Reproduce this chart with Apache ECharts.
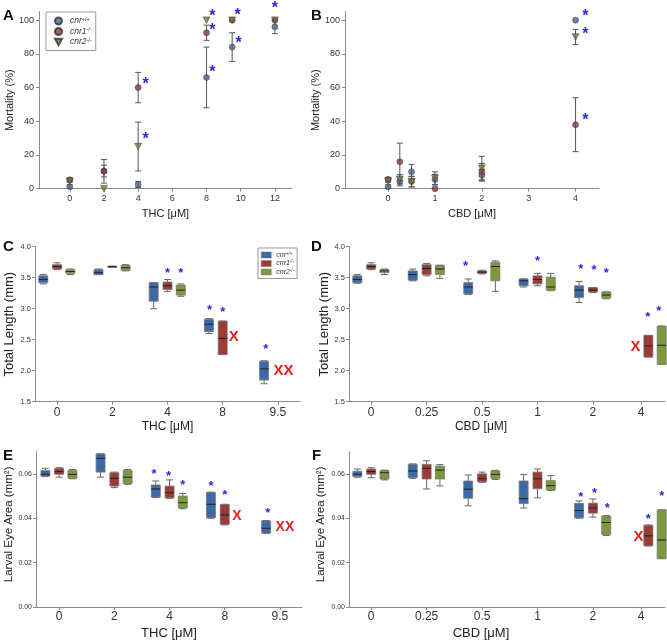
<!DOCTYPE html>
<html><head><meta charset="utf-8">
<script src="https://cdn.jsdelivr.net/npm/echarts@6/dist/echarts.min.js"></script>
<style>html,body{margin:0;padding:0;background:#fff}#c{width:667px;height:641px}</style>
</head><body><div id="c"></div><script>
// ---------- data ----------
const thcLabels = ['0','2','4','8','9.5'];
const cbdLabels = ['0','0.25','0.5','1','2','4'];
const thcTickPos = [0,1,2,3,4];
const cbdTickPos = [0,1,2,3,4,4.87];
const mortTHCticks = [0,2,4,6,8,10,12];
const mortCBDticks = [0,1,2,3,4];
const mortYticks = [0,20,40,60,80,100];
const lenYticks = [1.5,2.0,2.5,3.0,3.5,4.0];
const eyeYticks = [0,0.02,0.04,0.06];

// Panel A: mortality vs THC (mean, SEM)
const mortTHCdose = [0,2,4,8,9.5,12];
const mortTHC_wt = [1.2,10.5,2.5,66,84,96];
const mortTHC_wt_err = [1,3.5,1.8,18,8.5,4];
const mortTHC_ko1 = [5.3,10.3,60,92.5,100,100];
const mortTHC_ko1_err = [0.8,7,9,4.5,0,0];
const mortTHC_ko2 = [4.6,0,25,100,100,100];
const mortTHC_ko2_err = [0.8,0,14.5,0,0,0];

// Panel B: mortality vs CBD
const mortCBDdose = [0,0.25,0.5,1,2,4];
const mortCBD_wt = [1.2,4.2,10.1,5.5,8,100];
const mortCBD_wt_err = [1,2.5,4.3,3,3.5,0];
const mortCBD_ko1 = [5.6,16,4.2,0,10,38];
const mortCBD_ko1_err = [1,11,3,0,5,16];
const mortCBD_ko2 = [4.6,5.6,4.2,6.1,12.2,90];
const mortCBD_ko2_err = [0.8,2.8,3.2,3.9,7,4.5];

// Panel C: total length vs THC  [min,q1,median,q3,max]
const lenTHC_wt = [[3.40,3.42,3.47,3.53,3.55],[3.55,3.55,3.58,3.63,3.64],[3.00,3.12,3.35,3.42,3.42],[2.60,2.63,2.75,2.83,2.84],[1.79,1.85,2.03,2.15,2.16]];
const lenTHC_ko1 = [[3.63,3.64,3.68,3.71,3.74],[3.675,3.677,3.68,3.683,3.685],[3.28,3.31,3.37,3.43,3.47],[2.26,2.26,2.52,2.80,2.80],null];
const lenTHC_ko2 = [[3.55,3.57,3.60,3.63,3.64],[3.61,3.62,3.66,3.70,3.71],[3.20,3.22,3.30,3.38,3.40],null,null];

// Panel D: total length vs CBD
const lenCBD_wt = [[3.41,3.42,3.47,3.53,3.55],[3.45,3.46,3.55,3.61,3.64],[3.23,3.24,3.35,3.42,3.48],[3.35,3.37,3.45,3.48,3.48],[3.10,3.18,3.30,3.37,3.44],null];
const lenCBD_ko1 = [[3.63,3.64,3.68,3.71,3.74],[3.53,3.55,3.65,3.71,3.73],[3.56,3.57,3.59,3.61,3.62],[3.37,3.40,3.47,3.53,3.57],[3.26,3.27,3.30,3.34,3.34],[2.22,2.22,2.40,2.57,2.57]];
const lenCBD_ko2 = [[3.55,3.58,3.61,3.63,3.64],[3.49,3.55,3.64,3.70,3.70],[3.28,3.45,3.68,3.75,3.77],[3.29,3.30,3.35,3.51,3.57],[3.16,3.17,3.22,3.27,3.27],[2.10,2.10,2.41,2.72,2.72]];

// Panel E: eye area vs THC
const eyeTHC_wt = [[0.0588,0.0590,0.0598,0.0615,0.0625],[0.0585,0.0608,0.0670,0.0690,0.0690],[0.0493,0.0495,0.0532,0.0550,0.0568],[0.0400,0.0402,0.0463,0.0516,0.0518],[0.0332,0.0333,0.0355,0.0388,0.0390]];
const eyeTHC_ko1 = [[0.0585,0.0598,0.0610,0.0625,0.0628],[0.0538,0.0545,0.0580,0.0605,0.0608],[0.0490,0.0492,0.0515,0.0545,0.0573],[0.0370,0.0372,0.0415,0.0462,0.0463],null];
const eyeTHC_ko2 = [[0.0578,0.0580,0.0598,0.0615,0.0620],[0.0553,0.0556,0.0585,0.0615,0.0620],[0.0443,0.0446,0.0470,0.0500,0.0512],null,null];

// Panel F: eye area vs CBD
const eyeCBD_wt = [[0.0585,0.0588,0.0598,0.0612,0.0622],[0.0580,0.0583,0.0613,0.0643,0.0645],[0.0456,0.0490,0.0531,0.0568,0.0595],[0.0446,0.0466,0.0488,0.0568,0.0597],[0.0400,0.0402,0.0435,0.0467,0.0478],null];
const eyeCBD_ko1 = [[0.0583,0.0598,0.0610,0.0622,0.0628],[0.0532,0.0577,0.0625,0.0643,0.0659],[0.0562,0.0564,0.0578,0.0600,0.0608],[0.0492,0.0533,0.0578,0.0608,0.0622],[0.0405,0.0423,0.0446,0.0468,0.0487],[0.0275,0.0276,0.0321,0.0368,0.0370]];
const eyeCBD_ko2 = [[0.0573,0.0577,0.0605,0.0615,0.0617],[0.0546,0.0577,0.0617,0.0635,0.0642],[0.0575,0.0580,0.0598,0.0613,0.0616],[0.0525,0.0527,0.0547,0.0570,0.0592],[0.0322,0.0327,0.0381,0.0410,0.0412],[0.0218,0.0218,0.0302,0.0438,0.0438]];

// significance marks (asterisks) and excluded marks (X)
const starsA = [[4.44,64],[4.44,31],[8.34,104],[8.34,95.7],[8.34,71],[9.82,105],[9.88,88],[12,109]];
const starsB = [[4.21,104.3],[4.21,93.5],[4.21,42.7]];
const starsC = [[2,3.61],[2.24,3.61],[2.76,3.02],[3,2.99],[3.78,2.39]];
const xMarksC = [[3.2,2.54,1],[4.1,2.0,2]];
const starsD = [[1.7,3.72],[3,3.81],[3.78,3.68],[4.02,3.66],[4.24,3.61],[4.99,2.91],[5.19,3.01]];
const xMarksD = [[4.77,2.39,1]];
const starsE = [[1.72,0.0611],[1.98,0.0600],[2.24,0.0561],[2.75,0.0558],[3.0,0.0516],[3.78,0.0435]];
const xMarksE = [[3.22,0.0411,1],[4.09,0.0358,2]];
const starsF = [[3.78,0.0505],[4.03,0.0526],[4.26,0.0457],[5.0,0.0408],[5.24,0.0510]];
const xMarksF = [[4.82,0.0317,1]];

// ---------- style ----------
const FF = '"Liberation Sans", Arial, sans-serif';
const groupOffset = [-0.25, 0, 0.24];
const boxColors = ['#3d69a6','#9c3a35','#7c9a3c'];
const dotColors = ['#4a6590','#8a3b3c','#77763f'];
const AX = '#8c8c8c';
const TRI_DOWN = 'path://M0,0L10,0L5,9Z';

const chart = echarts.init(document.getElementById('c'), null, {renderer:'canvas'});

function nearestLabel(v, ticks, labels){
  let bi=0, bd=1e9;
  ticks.forEach((t,i)=>{const d=Math.abs(t-v); if(d<bd){bd=d;bi=i;}});
  return labels[bi];
}
function xAx(gi,min,max,ticks,labels,name,o){
  return {type:'value',gridIndex:gi,min,max,name,nameLocation:'middle',nameGap:o.nameGap,
    nameTextStyle:{fontSize:o.nameSize,color:'#222',fontFamily:FF,padding:o.namePad||0},
    axisLine:{show:true,onZero:false,lineStyle:{color:AX,width:1}},
    axisTick:{show:true,customValues:ticks,length:3,lineStyle:{color:AX}},
    axisLabel:{customValues:ticks,formatter:v=>nearestLabel(v,ticks,labels),fontSize:o.fontSize,color:'#333',fontFamily:FF,margin:o.margin},
    splitLine:{show:false}};
}
function yAx(gi,min,max,ticks,fmt,name,o){
  return {type:'value',gridIndex:gi,min,max,name,nameLocation:'middle',nameGap:o.nameGap,
    nameTextStyle:{fontSize:o.nameSize,color:'#222',fontFamily:FF,padding:o.namePad||0},
    axisLine:{show:true,onZero:false,lineStyle:{color:AX,width:1}},
    axisTick:{show:true,customValues:ticks,length:3,lineStyle:{color:AX}},
    axisLabel:{customValues:ticks,formatter:fmt,fontSize:o.fontSize,color:'#333',fontFamily:FF,margin:o.margin},
    splitLine:{show:false}};
}

function errSeries(gi,xs,ms,es){
  return {type:'custom',xAxisIndex:gi,yAxisIndex:gi,z:2,silent:true,
    data:xs.map((x,i)=>[x,ms[i],es[i]]),
    renderItem:(p,api)=>{
      const x=api.value(0),m=api.value(1),e=api.value(2);
      if(!(e>0)) return null;
      const t=api.coord([x,m+e]), b=api.coord([x,m-e]); const w=3;
      const st={stroke:'#555',lineWidth:1};
      return {type:'group',children:[
        {type:'line',shape:{x1:t[0],y1:t[1],x2:b[0],y2:b[1]},style:st},
        {type:'line',shape:{x1:t[0]-w,y1:t[1],x2:t[0]+w,y2:t[1]},style:st},
        {type:'line',shape:{x1:b[0]-w,y1:b[1],x2:b[0]+w,y2:b[1]},style:st}]};
    }};
}
function dotSeries(gi,name,xs,ms,k){
  return {type:'scatter',name,xAxisIndex:gi,yAxisIndex:gi,z:3+k,
    symbol:k===2?TRI_DOWN:'circle',symbolSize:k===2?[7,6.5]:6,
    itemStyle:{color:dotColors[k],borderColor:'#333',borderWidth:0.6},
    data:xs.map((x,i)=>[x,ms[i]])};
}
function boxSeries(gi,name,boxes,k){
  const data=[];
  boxes.forEach((b,i)=>{ if(b) data.push([i+groupOffset[k]].concat(b)); });
  return {type:'custom',name,xAxisIndex:gi,yAxisIndex:gi,z:3,
    itemStyle:{color:boxColors[k]},
    data,
    renderItem:(p,api)=>{
      const x=api.value(0);
      const c=[1,2,3,4,5].map(j=>api.coord([x,api.value(j)]));
      const cx=c[0][0], hw=4.5, cw=3.5;
      const ws={stroke:'#666',lineWidth:1};
      return {type:'group',children:[
        {type:'line',shape:{x1:cx,y1:c[4][1],x2:cx,y2:c[3][1]},style:ws},
        {type:'line',shape:{x1:cx,y1:c[1][1],x2:cx,y2:c[0][1]},style:ws},
        {type:'line',shape:{x1:cx-cw,y1:c[4][1],x2:cx+cw,y2:c[4][1]},style:ws},
        {type:'line',shape:{x1:cx-cw,y1:c[0][1],x2:cx+cw,y2:c[0][1]},style:ws},
        {type:'rect',shape:{x:cx-hw,y:c[3][1],width:2*hw,height:Math.max(1,c[1][1]-c[3][1])},style:{fill:boxColors[k],stroke:'#777',lineWidth:0.8}},
        {type:'line',shape:{x1:cx-hw,y1:c[2][1],x2:cx+hw,y2:c[2][1]},style:{stroke:'#222',lineWidth:1}}]};
    }};
}
function starSeries(gi,pts,size){
  return {type:'custom',xAxisIndex:gi,yAxisIndex:gi,z:10,silent:true,clip:false,
    data:pts,
    renderItem:(p,api)=>{
      const c=api.coord([api.value(0),api.value(1)]);
      return {type:'text',x:c[0],y:c[1]+size*0.22,style:{text:'*',fill:'#2a2ad6',font:'bold '+size+'px '+FF,align:'center',verticalAlign:'middle'}};
    }};
}
function xSeries(gi,pts,size){
  return {type:'custom',xAxisIndex:gi,yAxisIndex:gi,z:10,silent:true,clip:false,
    data:pts,
    renderItem:(p,api)=>{
      const c=api.coord([api.value(0),api.value(1)]);
      return {type:'text',x:c[0],y:c[1],style:{text:'X'.repeat(api.value(2)),fill:'#e3211d',font:'bold '+size+'px '+FF,align:'center',verticalAlign:'middle'}};
    }};
}

const legendRich = {
  f:{fontStyle:'italic',fontSize:8.5,color:'#333',fontFamily:FF,lineHeight:10,padding:[0,0,0,3]},
  s:{fontSize:5.5,color:'#333',fontFamily:FF,verticalAlign:'top',lineHeight:10}
};
const legendRichC = {
  f:{fontStyle:'italic',fontSize:7,color:'#333',fontFamily:FF,lineHeight:8},
  s:{fontSize:4.5,color:'#333',fontFamily:FF,verticalAlign:'top',lineHeight:8}
};
const legendText = {
  wtA:'{f|cnr}{s|+/+}', ko1A:'{f|cnr1}{s|-/-}', ko2A:'{f|cnr2}{s|-/-}',
  wtBox:'{f|cnr}{s|+/+}', ko1Box:'{f|cnr1}{s|-/-}', ko2Box:'{f|cnr2}{s|-/-}'
};

const boxNames=['wtBox','ko1Box','ko2Box'];
const lenFmt=v=>v.toFixed(1);
const eyeFmt=v=>v.toFixed(2);
const titleStyle={fontSize:15,fontWeight:'bold',color:'#111',fontFamily:FF};

const option = {
  animation:false,
  backgroundColor:'#fff',
  title:[
    {text:'A',left:3,top:8},{text:'B',left:311,top:8},
    {text:'C',left:3,top:239},{text:'D',left:311,top:239},
    {text:'E',left:3,top:448},{text:'F',left:312,top:448}
  ].map(t=>Object.assign(t,{padding:0,textStyle:titleStyle})),
  legend:[
    {data:[{name:'wtA',icon:'circle'},{name:'ko1A',icon:'circle'},{name:'ko2A',icon:TRI_DOWN}],
     orient:'vertical',left:46,top:12,itemWidth:7,itemHeight:7,itemGap:1,
     padding:[4,4,4,8],borderColor:'#999',borderWidth:1,backgroundColor:'#fff',selectedMode:false,
     formatter:n=>legendText[n],textStyle:{rich:legendRich}},
    {data:boxNames.map((n,k)=>({name:n,icon:'rect',itemStyle:{color:boxColors[k],borderColor:'#777',borderWidth:0.5}})),
     orient:'vertical',left:258,top:248,itemWidth:10,itemHeight:6,itemGap:1,
     padding:[3,3,3,3],borderColor:'#999',borderWidth:1,backgroundColor:'#fff',selectedMode:false,
     formatter:n=>legendText[n],textStyle:{rich:legendRichC}}
  ],
  grid:[
    {left:39,top:11.7,width:253,height:177},
    {left:345,top:11.7,width:254,height:177},
    {left:35,top:246.7,width:265,height:155},
    {left:349,top:246.7,width:316,height:155},
    {left:36,top:451.7,width:266,height:155.3},
    {left:349,top:451.7,width:316,height:155.3}
  ],
  xAxis:[
    xAx(0,-1.8,13,mortTHCticks,mortTHCticks.map(String),'THC [\u03bcM]',{nameGap:20,nameSize:11,fontSize:9,margin:5}),
    xAx(1,-0.92,4.5,mortCBDticks,mortCBDticks.map(String),'CBD [\u03bcM]',{nameGap:20,nameSize:11,fontSize:9,margin:5}),
    xAx(2,-0.4,4.4,thcTickPos,thcLabels,'THC [\u03bcM]',{nameGap:19,nameSize:12,fontSize:12,margin:5}),
    xAx(3,-0.4,5.3,cbdTickPos,cbdLabels,'CBD [\u03bcM]',{nameGap:19,nameSize:12,fontSize:12,margin:5,namePad:[0,52,0,0]}),
    xAx(4,-0.42,4.4,thcTickPos,thcLabels,'THC [\u03bcM]',{nameGap:20,nameSize:13,fontSize:12,margin:4}),
    xAx(5,-0.4,5.3,cbdTickPos,cbdLabels,'CBD [\u03bcM]',{nameGap:20,nameSize:13,fontSize:12,margin:4,namePad:[0,52,0,0]})
  ],
  yAxis:[
    yAx(0,0,105,mortYticks,v=>String(v),'Mortality (%)',{nameGap:20,nameSize:11,fontSize:9,margin:5}),
    yAx(1,0,105,mortYticks,v=>String(v),'Mortality (%)',{nameGap:20,nameSize:11,fontSize:9,margin:5}),
    yAx(2,1.5,4.0,lenYticks,lenFmt,'Total Length (mm)',{nameGap:19,nameSize:13,fontSize:7.5,margin:4}),
    yAx(3,1.5,4.0,lenYticks,lenFmt,'Total Length (mm)',{nameGap:17,nameSize:13,fontSize:7.5,margin:4}),
    yAx(4,0,0.07,eyeYticks,eyeFmt,'Larval Eye Area (mm\u00b2)',{nameGap:20,nameSize:11.5,fontSize:7,margin:4,namePad:[0,0,0,10]}),
    yAx(5,0,0.07,eyeYticks,eyeFmt,'Larval Eye Area (mm\u00b2)',{nameGap:22,nameSize:11.5,fontSize:7,margin:4,namePad:[0,0,0,10]})
  ],
  series:[
    errSeries(0,mortTHCdose,mortTHC_wt,mortTHC_wt_err),
    errSeries(0,mortTHCdose,mortTHC_ko1,mortTHC_ko1_err),
    errSeries(0,mortTHCdose,mortTHC_ko2,mortTHC_ko2_err),
    dotSeries(0,'wtA',mortTHCdose,mortTHC_wt,0),
    dotSeries(0,'ko1A',mortTHCdose,mortTHC_ko1,1),
    dotSeries(0,'ko2A',mortTHCdose,mortTHC_ko2,2),
    errSeries(1,mortCBDdose,mortCBD_wt,mortCBD_wt_err),
    errSeries(1,mortCBDdose,mortCBD_ko1,mortCBD_ko1_err),
    errSeries(1,mortCBDdose,mortCBD_ko2,mortCBD_ko2_err),
    dotSeries(1,'wtA',mortCBDdose,mortCBD_wt,0),
    dotSeries(1,'ko1A',mortCBDdose,mortCBD_ko1,1),
    dotSeries(1,'ko2A',mortCBDdose,mortCBD_ko2,2),
    boxSeries(2,'wtBox',lenTHC_wt,0),boxSeries(2,'ko1Box',lenTHC_ko1,1),boxSeries(2,'ko2Box',lenTHC_ko2,2),
    boxSeries(3,'wtBox',lenCBD_wt,0),boxSeries(3,'ko1Box',lenCBD_ko1,1),boxSeries(3,'ko2Box',lenCBD_ko2,2),
    boxSeries(4,'wtBox',eyeTHC_wt,0),boxSeries(4,'ko1Box',eyeTHC_ko1,1),boxSeries(4,'ko2Box',eyeTHC_ko2,2),
    boxSeries(5,'wtBox',eyeCBD_wt,0),boxSeries(5,'ko1Box',eyeCBD_ko1,1),boxSeries(5,'ko2Box',eyeCBD_ko2,2),
    starSeries(0,starsA,16),starSeries(1,starsB,16),
    starSeries(2,starsC,13),starSeries(3,starsD,13),starSeries(4,starsE,13),starSeries(5,starsF,13),
    xSeries(2,xMarksC,15),xSeries(3,xMarksD,15),xSeries(4,xMarksE,14),xSeries(5,xMarksF,15)
  ]
};
chart.setOption(option);
</script></body></html>
